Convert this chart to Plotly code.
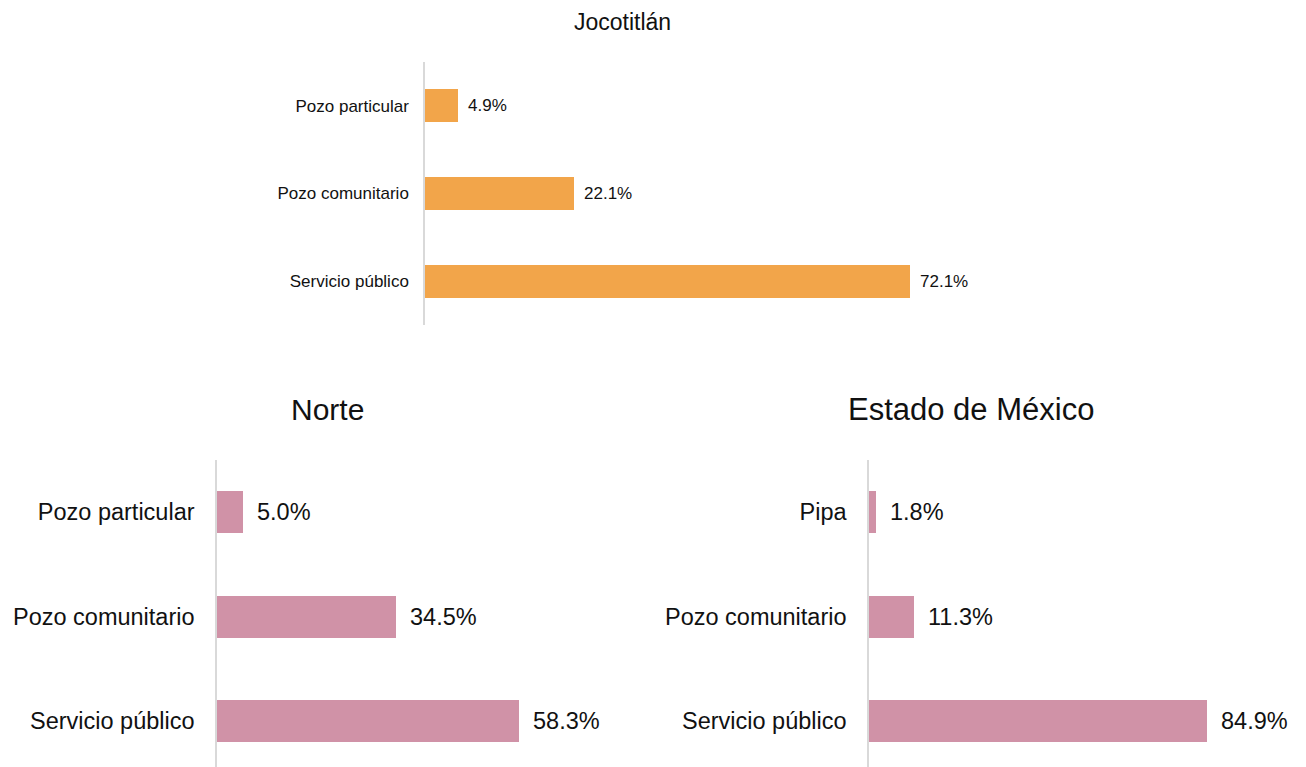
import plotly.graph_objects as go

# Fuente de abastecimiento de agua (% de viviendas)
jocotitlan_cats = ["Pozo particular", "Pozo comunitario", "Servicio público"]
jocotitlan_vals = [4.9, 22.1, 72.1]

norte_cats = ["Pozo particular", "Pozo comunitario", "Servicio público"]
norte_vals = [5.0, 34.5, 58.3]

edomex_cats = ["Pipa", "Pozo comunitario", "Servicio público"]
edomex_vals = [1.8, 11.3, 84.9]

W, H = 1306, 767
ORANGE = "#F2A54A"
PINK = "#D092A7"
AXIS_GRAY = "#D9D9D9"
FONT = "Liberation Sans, Arial, sans-serif"

fig = go.Figure()

panels = [
    dict(cats=jocotitlan_cats, vals=jocotitlan_vals, color=ORANGE, ax="", x0=425, x1=963,
         y0=62, y1=325, xmax=80, yr=[2.5, -0.5], bw=0.375, fs=17, title="Jocotitlán",
         ts=23, tx=622, ty=22, shift=8, stand=11),
    dict(cats=norte_cats, vals=norte_vals, color=PINK, ax="2", x0=217, x1=580,
         y0=460, y1=767, xmax=70, yr=[2.438, -0.5], bw=0.40, fs=23.5, title="Norte",
         ts=30, tx=328, ty=410, shift=12, stand=16),
    dict(cats=edomex_cats, vals=edomex_vals, color=PINK, ax="3", x0=869, x1=1267,
         y0=460, y1=767, xmax=100, yr=[2.438, -0.5], bw=0.40, fs=23.5, title="Estado de México",
         ts=31, tx=971, ty=410, shift=12, stand=16),
]

for p in panels:
    xa = "x" + p["ax"]
    ya = "y" + p["ax"]
    fig.add_trace(go.Bar(
        x=p["vals"], y=p["cats"], orientation="h",
        marker=dict(color=p["color"], line=dict(width=0)),
        width=p["bw"], xaxis=xa, yaxis=ya, showlegend=False,
        hoverinfo="skip",
    ))
    # value labels to the right of each bar
    for c, v in zip(p["cats"], p["vals"]):
        fig.add_annotation(
            x=v, y=c, xref=xa, yref=ya, text=f"{v:.1f}%", showarrow=False,
            xanchor="left", yanchor="middle", xshift=p["shift"],
            font=dict(family=FONT, size=p["fs"], color="#111111"),
        )
    # panel title
    fig.add_annotation(
        x=p["tx"] / W, y=1 - p["ty"] / H, xref="paper", yref="paper",
        text=p["title"], showarrow=False, xanchor="center", yanchor="middle",
        font=dict(family=FONT, size=p["ts"], color="#111111"),
    )
    xkey = "xaxis" + p["ax"]
    ykey = "yaxis" + p["ax"]
    fig.update_layout({
        xkey: dict(domain=[p["x0"] / W, p["x1"] / W], range=[0, p["xmax"]],
                   visible=False, showgrid=False, zeroline=False, anchor=ya),
        ykey: dict(domain=[1 - p["y1"] / H, 1 - p["y0"] / H], range=p["yr"],
                   type="category", showline=True, linecolor=AXIS_GRAY, linewidth=1.5,
                   showgrid=False, zeroline=False, ticks="", anchor=xa,
                   ticklabelstandoff=p["stand"],
                   tickfont=dict(family=FONT, size=p["fs"], color="#111111")),
    })

fig.update_layout(
    width=W, height=H,
    margin=dict(l=0, r=0, t=0, b=0),
    paper_bgcolor="white", plot_bgcolor="white",
    bargap=0,
)

fig.write_html("out.html", include_plotlyjs=True, config={"displayModeBar": False})
